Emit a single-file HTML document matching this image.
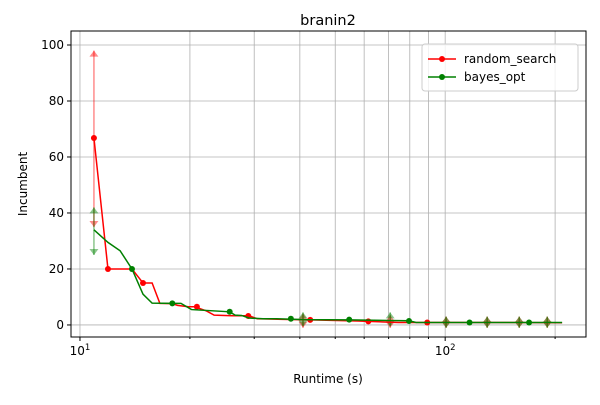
<!DOCTYPE html>
<html><head><meta charset="utf-8"><style>
body{margin:0;background:#fff;font-family:"Liberation Sans","DejaVu Sans",sans-serif}
svg text{font-family:"DejaVu Sans","Liberation Sans",sans-serif}
</style></head><body>
<svg id="chart" width="600" height="400" xmlns="http://www.w3.org/2000/svg"></svg>
<script>
const rsTimes=[10.92,11.93,13.88,14.88,15.76,16.55,17.9,18.5,19.8,20.6,22.2,23.3,26.1,29.0,30.6,36.0,42.7,57.7,74.4,178.7,209];
const rsValues=[66.8,20,20,15,15,7.7,7.6,7.0,6.5,6.5,5,3.5,3.3,3.3,2.2,2.0,1.8,1.4,0.9,0.85,0.8];
const rsMarkTimes=[10.92,11.93,14.88,20.9,28.9,42.7,61.6,89.3];
const rsMarkValues=[66.8,20,15,6.5,3.2,1.8,1.3,0.9];
const boTimes=[10.92,11.93,12.88,13.88,14.88,15.76,17.9,18.9,20.2,25.7,26.6,27.7,29.0,31.7,34.6,41.2,54.6,79.6,83.3,209];
const boValues=[34,29.5,26.5,20,11,7.8,7.7,7.7,5.5,4.7,3.5,3.4,2.5,2.2,2.2,1.9,1.8,1.5,0.9,0.9];
const boMarkTimes=[13.88,17.9,25.7,37.8,54.6,79.6,116.6,169.7];
const boMarkValues=[20,7.7,4.7,2.2,1.9,1.4,0.9,0.9];
const errTimes=[10.92,40.8,70.7,100.6,130.3,159.5,190.3];
const rsLo=[35,-1,-1,-1,-1,-1,-1];
const rsHi=[98,4,3.5,3,3,3,3];
const boLo=[25,-0.5,-0.5,-1,-1,-1,-1];
const boHi=[42,4.5,4.5,3,3,3,3];
const xTickVals=[10,100];
const yTickVals=[0,20,40,60,80,100];

const NS="http://www.w3.org/2000/svg";
const svg=document.getElementById('chart');
const L=71,R=586,T=31,B=337;
const xMin=Math.log10(9.45),xMax=Math.log10(243);
const yMin=-4.3,yMax=105;
const X=t=>L+(Math.log10(t)-xMin)/(xMax-xMin)*(R-L);
const Y=v=>B-(v-yMin)/(yMax-yMin)*(B-T);
function el(tag,attrs,parent){const e=document.createElementNS(NS,tag);for(const k in attrs)e.setAttribute(k,attrs[k]);(parent||svg).appendChild(e);return e;}

const grid=el('g',{});


for(let d=1;d<=2;d++){for(let m=1;m<=9;m++){const t=m*Math.pow(10,d);if(t<9.45||t>243)continue;
 el('line',{x1:X(t),x2:X(t),y1:T,y2:B,stroke:'#b0b0b0','stroke-width':0.8},grid);}}
yTickVals.forEach(v=>el('line',{x1:L,x2:R,y1:Y(v),y2:Y(v),stroke:'#b0b0b0','stroke-width':0.8},grid));

function drawErr(lo,hi,color,name){
 const g=el('g',{'fill-opacity':0.45,'stroke-opacity':0.45});
 
 
 errTimes.forEach((t,i)=>{const x=X(t),y1=Y(lo[i]),y2=Y(hi[i]);
  el('line',{x1:x,x2:x,y1:y1,y2:y2,stroke:color,'stroke-width':1.5},g);
  el('path',{d:`M${x-4.5},${y2+6}L${x},${y2}L${x+4.5},${y2+6}Z`,fill:color},g);
  el('path',{d:`M${x-4.5},${y1-6}L${x},${y1}L${x+4.5},${y1-6}Z`,fill:color},g);});
}
drawErr(rsLo,rsHi,'#ff0000','random-search-error-bars');
drawErr(boLo,boHi,'#008000','bayes-opt-error-bars');

function drawLine(ts,vs,mt,mv,color,name){
 const g=el('g',{});
 
 
 el('polyline',{points:ts.map((t,i)=>X(t)+','+Y(vs[i])).join(' '),fill:'none',stroke:color,'stroke-width':1.5},g);
 mt.forEach((t,i)=>el('circle',{cx:X(t),cy:Y(mv[i]),r:3,fill:color},g));
}
drawLine(rsTimes,rsValues,rsMarkTimes,rsMarkValues,'#ff0000','random-search-line');
drawLine(boTimes,boValues,boMarkTimes,boMarkValues,'#008000','bayes-opt-line');

const fr=el('rect',{x:L,y:T,width:R-L,height:B-T,fill:'none',stroke:'#000','stroke-width':1});



xTickVals.forEach(v=>{el('line',{x1:X(v),x2:X(v),y1:B,y2:B+4,stroke:'#000'});
 const t=el('text',{x:X(v),y:B+18,'text-anchor':'middle','font-size':12});
 
 
 t.innerHTML='10<tspan dy="-5" font-size="8.5">'+Math.log10(v)+'</tspan>';});
for(let d=1;d<=2;d++)for(let m=2;m<=9;m++){const t=m*Math.pow(10,d);if(t>243)continue;el('line',{x1:X(t),x2:X(t),y1:B,y2:B+2,stroke:'#000'});}
yTickVals.forEach(v=>{el('line',{x1:L-4,x2:L,y1:Y(v),y2:Y(v),stroke:'#000'});
 const t=el('text',{x:L-7,y:Y(v)+4,'text-anchor':'end','font-size':12});
 
 
 t.textContent=v;});

const title=el('text',{x:328,y:25,'text-anchor':'middle','font-size':14.5});


title.textContent='branin2';
const xt=el('text',{x:328,y:383,'text-anchor':'middle','font-size':12});


xt.textContent='Runtime (s)';
const yt=el('text',{x:27,y:184,'text-anchor':'middle','font-size':12,transform:'rotate(-90 27 184)'});


yt.textContent='Incumbent';

const lg=el('g',{});


el('rect',{x:422,y:44,width:156,height:47,rx:3,fill:'#fff','fill-opacity':0.8,stroke:'#ccc'},lg);
[['random_search','#ff0000',59],['bayes_opt','#008000',77]].forEach(([n,c,y])=>{
 const e=el('g',{},lg);
 
 
 el('line',{x1:428,x2:456,y1:y,y2:y,stroke:c,'stroke-width':1.5},e);
 el('circle',{cx:442,cy:y,r:3,fill:c},e);
 const t=el('text',{x:464,y:y+4,'font-size':12},e);t.textContent=n;});
</script>
</body></html>
